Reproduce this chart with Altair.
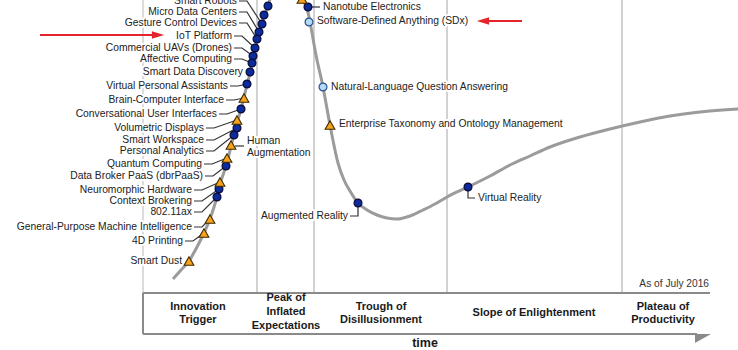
import altair as alt
import pandas as pd

W, H = 738, 350
FONT = "Liberation Sans, Arial, sans-serif"
NARROW = "Liberation Sans Narrow, Arial Narrow, Liberation Sans, sans-serif"

# ---- hype curve (time on x, expectations on y; y measured downward) ----
curve_x = [173, 181, 189, 197, 204, 210, 214, 217, 220, 223, 226, 229, 231, 234, 237,
           241, 244, 247, 250, 252, 254, 256, 258, 260, 262, 265, 268, 272, 278, 286,
           294, 299, 302, 307, 310, 316, 323, 330, 338, 344, 350, 358, 367, 377, 387,
           397, 410, 423, 435, 447, 468, 490, 510, 530, 550, 580, 610, 640, 670, 700, 738]
curve_y = [279, 270, 261, 247, 233, 219, 207, 197, 184, 175, 166, 155, 146, 135, 123,
           109, 97, 85, 73, 63, 54, 45, 37, 30, 23, 14, 6, -8, -25, -35,
           -26, -12, -1, 8, 22, 55, 87, 125, 163, 180, 191, 203, 210, 215, 218,
           219, 216, 210, 204, 197, 187, 176, 165, 156, 147, 137, 129, 122, 116, 112, 109]

# ---- technologies on the rising slope (labels on the left) ----
left_names = ["Smart Robots", "Micro Data Centers", "Gesture Control Devices", "IoT Platform",
              "Commercial UAVs (Drones)", "Affective Computing", "Smart Data Discovery",
              "Virtual Personal Assistants", "Brain-Computer Interface",
              "Conversational User Interfaces", "Volumetric Displays", "Smart Workspace",
              "Personal Analytics", "Quantum Computing", "Data Broker PaaS (dbrPaaS)",
              "Neuromorphic Hardware", "Context Brokering", "802.11ax",
              "General-Purpose Machine Intelligence", "4D Printing", "Smart Dust"]
left_label_end = [237, 237, 237, 232, 232, 232, 243, 228, 224, 217, 204, 204, 204, 202, 203,
                  192, 192, 192, 192, 183, 182]
left_label_y = [1, 12, 23, 36, 48, 59, 72, 86, 100, 114, 128, 140, 151, 164, 176,
                190, 201, 212, 227, 241, 261]
left_mx = [262, 259, 257, 255, 253, 252, 250, 247, 244, 241, 237, 237, 234, 227, 226,
           220, 219, 217, 210, 204, 189]
left_my = [24, 32, 39, 48, 56, 63, 72, 84, 98, 109, 120, 128, 135, 158, 166,
           182, 189, 197, 219, 233, 261]
left_kind = ["dark", "dark", "dark", "dark", "dark", "dark", "dark", "dark", "tri", "dark",
             "tri", "dark", "dark", "tri", "dark", "tri", "dark", "dark", "tri", "tri", "tri"]

# markers whose labels lie outside the picture
extra_mx = [268, 264, 302]
extra_my = [6, 15, -1]
extra_kind = ["dark", "dark", "tri"]

# ---- technologies on the falling slope / trough / slope (labels on the right) ----
right_names = ["Nanotube Electronics", "Software-Defined Anything (SDx)",
               "Natural-Language Question Answering",
               "Enterprise Taxonomy and Ontology Management", "Virtual Reality"]
right_mx = [308, 309, 323, 330, 468]
right_my = [7, 22, 87, 125, 187]
right_label_x = [323, 317, 331, 339, 478]
right_label_y = [7, 21, 87, 124, 198]
right_kind = ["dark", "light", "light", "tri", "dark"]

# Human Augmentation (label right of marker) and Augmented Reality (label left, below)
ha_mx, ha_my = 231, 145
ha_lines = ["Human", "Augmentation"]
ha_line_y = [141, 153]
ha_label_x = 247
ar_name = "Augmented Reality"
ar_mx, ar_my = 358, 203
ar_label_end, ar_label_y = 348, 216

# ---- phases ----
phase_text = ["Innovation", "Trigger", "Peak of", "Inflated", "Expectations", "Trough of",
              "Disillusionment", "Slope of Enlightenment", "Plateau of", "Productivity"]
phase_x = [198, 198, 286, 286, 286, 381, 381, 534, 663, 663]
phase_y = [307, 320, 298, 312, 326, 307, 320, 313, 307, 320]
phase_bounds = [143, 257, 314, 447, 622, 710]
box_top, box_bottom = 293, 334

# ---------------------------------------------------------------------------
xs = alt.Scale(domain=[0, W], nice=False, zero=False)
ys = alt.Scale(domain=[0, H], nice=False, zero=False, reverse=True)


def X(f):
    return alt.X(f, type="quantitative", scale=xs, axis=None)


def Y(f):
    return alt.Y(f, type="quantitative", scale=ys, axis=None)


# grid / frame
div_df = pd.DataFrame({"x": phase_bounds[1:-1], "y": [0] * 4, "y2": [box_top] * 4})
dividers = alt.Chart(div_df).mark_rule(color="#d2d2d2", strokeWidth=2).encode(
    x=X("x"), y=Y("y"), y2="y2")
left_light = alt.Chart(pd.DataFrame({"x": [phase_bounds[0]], "y": [0], "y2": [box_top]})).mark_rule(
    color="#cfcfcf", strokeWidth=1.5).encode(x=X("x"), y=Y("y"), y2="y2")
left_dark = alt.Chart(pd.DataFrame({"x": [phase_bounds[0]], "y": [box_top], "y2": [box_bottom]})).mark_rule(
    color="#8a8a8a", strokeWidth=2).encode(x=X("x"), y=Y("y"), y2="y2")
hlines = alt.Chart(pd.DataFrame({"x": [phase_bounds[0], phase_bounds[0]],
                                 "x2": [phase_bounds[-1], 697],
                                 "y": [box_top, box_bottom]})).mark_rule(
    color="#8a8a8a", strokeWidth=2).encode(x=X("x"), x2="x2", y=Y("y"))
arrow_df = pd.DataFrame({"x": [695, 711], "y": [box_bottom, box_bottom], "y2": [343, box_bottom]})
time_arrow = alt.Chart(arrow_df).mark_area(color="#8a8a8a").encode(x=X("x"), y=Y("y"), y2="y2")

# curve
curve_df = pd.DataFrame({"x": curve_x, "y": curve_y})
curve = alt.Chart(curve_df).mark_line(color="#9b9b9b", strokeWidth=3, interpolate="monotone",
                                      clip=True).encode(x=X("x"), y=Y("y"))

# leader lines
lead_rows = []
for i, name in enumerate(left_names):
    if left_mx[i] - left_label_end[i] < 10:
        continue
    e, ly = left_label_end[i], left_label_y[i]
    lead_rows += [
        {"id": name, "o": 0, "x": e + 2, "y": ly},
        {"id": name, "o": 1, "x": e + 10, "y": ly},
        {"id": name, "o": 2, "x": left_mx[i], "y": left_my[i]},
    ]
lead_rows += [
    {"id": "nano", "o": 0, "x": right_mx[0] + 3, "y": right_label_y[0]},
    {"id": "nano", "o": 1, "x": right_label_x[0] - 3, "y": right_label_y[0]},
    {"id": "ha", "o": 0, "x": ha_mx + 4, "y": 146},
    {"id": "ha", "o": 1, "x": ha_label_x - 3, "y": 146},
    {"id": "ar", "o": 0, "x": ar_label_end + 2, "y": ar_label_y},
    {"id": "ar", "o": 1, "x": ar_mx, "y": ar_label_y},
    {"id": "ar", "o": 2, "x": ar_mx, "y": ar_my},
    {"id": "vr", "o": 0, "x": right_mx[4], "y": right_my[4]},
    {"id": "vr", "o": 1, "x": right_mx[4], "y": right_label_y[4]},
    {"id": "vr", "o": 2, "x": right_label_x[4] - 3, "y": right_label_y[4]},
]
lead_df = pd.DataFrame(lead_rows)
leaders = alt.Chart(lead_df).mark_line(color="#333333", strokeWidth=1.2, clip=True).encode(
    x=X("x"), y=Y("y"), detail="id:N", order="o:Q")

# markers
mk = pd.DataFrame({
    "x": left_mx + extra_mx + right_mx + [ha_mx, ar_mx],
    "y": left_my + extra_my + right_my + [ha_my, ar_my],
    "kind": left_kind + extra_kind + right_kind + ["tri", "dark"],
})
dark = alt.Chart(mk[mk.kind == "dark"]).mark_point(
    shape="circle", filled=True, size=62, fill="#0b2c9a", stroke="#0a0a3a", strokeWidth=1.2,
    opacity=1, clip=True).encode(x=X("x"), y=Y("y"))
light = alt.Chart(mk[mk.kind == "light"]).mark_point(
    shape="circle", filled=True, size=62, fill="#b4dbf5", stroke="#2c4f8f", strokeWidth=1.2,
    opacity=1, clip=True).encode(x=X("x"), y=Y("y"))
tri = alt.Chart(mk[mk.kind == "tri"]).mark_point(
    shape="triangle-up", filled=True, size=95, fill="#f6a21a", stroke="#3d2a00", strokeWidth=1.1,
    opacity=1, clip=True).encode(x=X("x"), y=Y("y"))

# labels
lab_left = pd.DataFrame({"t": left_names + [ar_name],
                         "x": left_label_end + [ar_label_end],
                         "y": left_label_y + [ar_label_y]})
lab_right = pd.DataFrame({"t": right_names + ha_lines,
                          "x": right_label_x + [ha_label_x, ha_label_x],
                          "y": right_label_y + ha_line_y})


def labels(df, align):
    halo = alt.Chart(df).mark_text(align=align, baseline="middle", font=FONT, fontSize=10.3,
                                   fill="white", stroke="white", strokeWidth=4,
                                   strokeJoin="round", clip=True).encode(
        x=X("x"), y=Y("y"), text="t:N")
    txt = alt.Chart(df).mark_text(align=align, baseline="middle", font=FONT, fontSize=10.3,
                                  fill="#222222", clip=True).encode(
        x=X("x"), y=Y("y"), text="t:N")
    return halo, txt


hl, tl = labels(lab_left, "right")
hr, tr = labels(lab_right, "left")

phase_df = pd.DataFrame({"t": phase_text, "x": phase_x, "y": phase_y})
phases = alt.Chart(phase_df).mark_text(align="center", baseline="middle", font=NARROW,
                                       fontSize=11, fontWeight="bold", fill="#1a1a1a").encode(
    x=X("x"), y=Y("y"), text="t:N")
asof = alt.Chart(pd.DataFrame({"t": ["As of July 2016"], "x": [709], "y": [284]})).mark_text(
    align="right", baseline="middle", font=NARROW, fontSize=10.2, fill="#333333").encode(
    x=X("x"), y=Y("y"), text="t:N")
time_lbl = alt.Chart(pd.DataFrame({"t": ["time"], "x": [425], "y": [343]})).mark_text(
    align="center", baseline="middle", font=NARROW, fontSize=12.5, fontWeight="bold",
    fill="#1a1a1a").encode(x=X("x"), y=Y("y"), text="t:N")

# red arrows
red_lines = pd.DataFrame({"x": [40, 483], "x2": [157, 522], "y": [35, 21]})
red = alt.Chart(red_lines).mark_rule(color="#e3242b", strokeWidth=2).encode(
    x=X("x"), x2="x2", y=Y("y"))
red_heads_r = alt.Chart(pd.DataFrame({"x": [158], "y": [35]})).mark_point(
    shape="M1,0L-1,-0.6L-1,0.6Z", filled=True, size=150, color="#e3242b", opacity=1).encode(
    x=X("x"), y=Y("y"))
red_heads_l = alt.Chart(pd.DataFrame({"x": [483], "y": [21]})).mark_point(
    shape="M-1,0L1,-0.6L1,0.6Z", filled=True, size=150, color="#e3242b", opacity=1).encode(
    x=X("x"), y=Y("y"))

chart = alt.layer(
    dividers, left_light, left_dark, hlines, time_arrow,
    curve, hl, hr, leaders, tl, tr, dark, light, tri,
    phases, asof, time_lbl, red, red_heads_r, red_heads_l,
).properties(width=W, height=H, padding=0, autosize="none", background="white"
             ).configure_view(stroke=None)

chart.save("out.html", embed_options={"renderer": "svg", "actions": False})
